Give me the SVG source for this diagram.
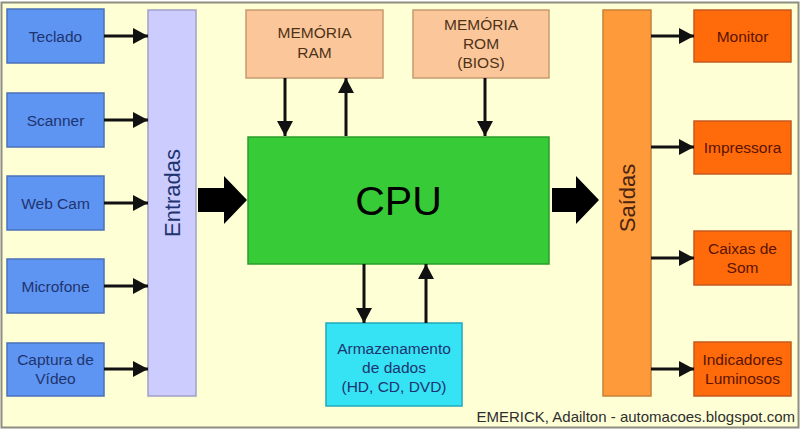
<svg xmlns="http://www.w3.org/2000/svg" width="801" height="430" viewBox="0 0 801 430">
<defs>
<marker id="ah" markerUnits="userSpaceOnUse" markerWidth="15" markerHeight="16" refX="15" refY="8" orient="auto">
<path d="M0,0 L15,8 L0,16 z" fill="#111"/>
</marker>
<style>
text{font-family:"Liberation Sans",Arial,sans-serif;text-anchor:middle}
.in rect{fill:#5E95F2;stroke:#4A72B8;stroke-width:1.5}
.in text{fill:#1E3470;font-size:15.5px}
.out rect{fill:#FF6A0A;stroke:#C65A20;stroke-width:1.5}
.out text{fill:#5A1400;font-size:15.5px}
.mem rect{fill:#FBC79A;stroke:#C89A70;stroke-width:1.5}
.mem text{fill:#4E3218;font-size:15.5px}
.conn line{stroke:#111;stroke-width:3;marker-end:url(#ah)}
.big{fill:#000}
</style>
</defs>
<rect x="1.5" y="2.5" width="797" height="425" fill="#FFFFD6" stroke="#8E8E80" stroke-width="2"/>

<g id="teclado" class="in"><rect x="7" y="9" width="97" height="54"/><text x="55.5" y="41.5">Teclado</text></g>
<g id="scanner" class="in"><rect x="7" y="93" width="97" height="54"/><text x="55.5" y="125.5">Scanner</text></g>
<g id="webcam" class="in"><rect x="7" y="176" width="97" height="54"/><text x="55.5" y="208.5">Web Cam</text></g>
<g id="microfone" class="in"><rect x="7" y="259" width="97" height="54"/><text x="55.5" y="291.5">Microfone</text></g>
<g id="captura" class="in"><rect x="7" y="343" width="97" height="53"/><text x="55.5" y="365">Captura de</text><text x="55.5" y="384">Vídeo</text></g>

<g id="entradas"><rect x="148" y="10" width="48" height="386" fill="#CCCCFF" stroke="#A0A0C8" stroke-width="1.5"/><text transform="translate(180,193) rotate(-90)" font-size="22" fill="#1E3470">Entradas</text></g>

<g id="ram" class="mem"><rect x="246" y="10" width="137" height="68"/><text x="314.5" y="38">MEMÓRIA</text><text x="314.5" y="58">RAM</text></g>
<g id="rom" class="mem"><rect x="413" y="10" width="136" height="68"/><text x="481" y="30">MEMÓRIA</text><text x="481" y="49">ROM</text><text x="481" y="68">(BIOS)</text></g>

<g id="cpu"><rect x="248" y="137" width="301" height="127" fill="#37CB37" stroke="#2A9E2A" stroke-width="1.5"/><text x="398.5" y="215" font-size="41" fill="#000">CPU</text></g>

<g id="armazenamento"><rect x="326" y="323" width="136" height="83" fill="#35E3F4" stroke="#22A8BC" stroke-width="1.5"/><text x="394" y="354" font-size="15.5" fill="#1E3470">Armazenamento</text><text x="394" y="373" font-size="15.5" fill="#1E3470">de dados</text><text x="394" y="392" font-size="15.5" fill="#1E3470">(HD, CD, DVD)</text></g>

<g id="saidas"><rect x="603" y="10" width="48" height="386" fill="#FF9A3A" stroke="#C8803A" stroke-width="1.5"/><text transform="translate(635,198) rotate(-90)" font-size="22" fill="#4A2410">Saídas</text></g>

<g id="monitor" class="out"><rect x="694" y="10" width="97" height="52"/><text x="742.5" y="41.5">Monitor</text></g>
<g id="impressora" class="out"><rect x="694" y="121" width="97" height="53"/><text x="742.5" y="153">Impressora</text></g>
<g id="caixas" class="out"><rect x="694" y="231" width="97" height="54"/><text x="742.5" y="254">Caixas de</text><text x="742.5" y="273">Som</text></g>
<g id="indicadores" class="out"><rect x="694" y="342" width="97" height="54"/><text x="742.5" y="365">Indicadores</text><text x="742.5" y="384">Luminosos</text></g>

<g id="connectors" class="conn">
<line x1="104" y1="36" x2="148" y2="36"/>
<line x1="104" y1="120" x2="148" y2="120"/>
<line x1="104" y1="203" x2="148" y2="203"/>
<line x1="104" y1="286" x2="148" y2="286"/>
<line x1="104" y1="369" x2="148" y2="369"/>
<line x1="651" y1="36" x2="694" y2="36"/>
<line x1="651" y1="147" x2="694" y2="147"/>
<line x1="651" y1="258" x2="694" y2="258"/>
<line x1="651" y1="369" x2="694" y2="369"/>
<line x1="285" y1="78" x2="285" y2="136"/>
<line x1="346" y1="136" x2="346" y2="78"/>
<line x1="485" y1="78" x2="485" y2="136"/>
<line x1="364" y1="264" x2="364" y2="323"/>
<line x1="426" y1="323" x2="426" y2="264"/>
<path class="big" d="M198,188 L224,188 L224,176 L247,200 L224,224 L224,212 L198,212 z"/>
<path class="big" d="M552,188 L576,188 L576,176 L599,200 L576,224 L576,212 L552,212 z"/>
</g>

<text x="795" y="422" font-size="15" fill="#2E2E2E" style="text-anchor:end">EMERICK, Adailton - automacoes.blogspot.com</text>
</svg>
